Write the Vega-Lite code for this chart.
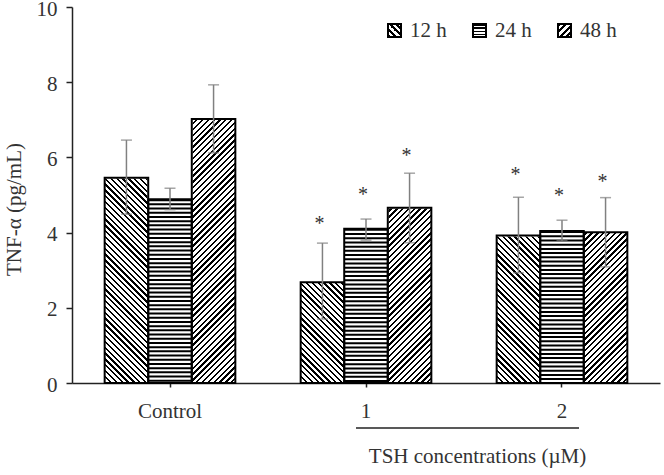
{
"$schema":"https://vega.github.io/schema/vega-lite/v6.json",
"width":588,"height":376,
"autosize":"none",
"padding":{"left":72,"top":7,"right":4,"bottom":92},
"background":"white",
"params":[
{"name":"hs","value":[
{"offset":0,"color":"#000"},{"offset":0.0075,"color":"#000"},{"offset":0.0075,"color":"#fff"},{"offset":0.0189,"color":"#fff"},
{"offset":0.0189,"color":"#000"},{"offset":0.0264,"color":"#000"},{"offset":0.0264,"color":"#fff"},{"offset":0.0377,"color":"#fff"},
{"offset":0.0377,"color":"#000"},{"offset":0.0453,"color":"#000"},{"offset":0.0453,"color":"#fff"},{"offset":0.0566,"color":"#fff"},
{"offset":0.0566,"color":"#000"},{"offset":0.0642,"color":"#000"},{"offset":0.0642,"color":"#fff"},{"offset":0.0755,"color":"#fff"},
{"offset":0.0755,"color":"#000"},{"offset":0.0830,"color":"#000"},{"offset":0.0830,"color":"#fff"},{"offset":0.0943,"color":"#fff"},
{"offset":0.0943,"color":"#000"},{"offset":0.1019,"color":"#000"},{"offset":0.1019,"color":"#fff"},{"offset":0.1132,"color":"#fff"},
{"offset":0.1132,"color":"#000"},{"offset":0.1208,"color":"#000"},{"offset":0.1208,"color":"#fff"},{"offset":0.1321,"color":"#fff"},
{"offset":0.1321,"color":"#000"},{"offset":0.1396,"color":"#000"},{"offset":0.1396,"color":"#fff"},{"offset":0.1509,"color":"#fff"},
{"offset":0.1509,"color":"#000"},{"offset":0.1585,"color":"#000"},{"offset":0.1585,"color":"#fff"},{"offset":0.1698,"color":"#fff"},
{"offset":0.1698,"color":"#000"},{"offset":0.1774,"color":"#000"},{"offset":0.1774,"color":"#fff"},{"offset":0.1887,"color":"#fff"},
{"offset":0.1887,"color":"#000"},{"offset":0.1962,"color":"#000"},{"offset":0.1962,"color":"#fff"},{"offset":0.2075,"color":"#fff"},
{"offset":0.2075,"color":"#000"},{"offset":0.2151,"color":"#000"},{"offset":0.2151,"color":"#fff"},{"offset":0.2264,"color":"#fff"},
{"offset":0.2264,"color":"#000"},{"offset":0.2340,"color":"#000"},{"offset":0.2340,"color":"#fff"},{"offset":0.2453,"color":"#fff"},
{"offset":0.2453,"color":"#000"},{"offset":0.2528,"color":"#000"},{"offset":0.2528,"color":"#fff"},{"offset":0.2642,"color":"#fff"},
{"offset":0.2642,"color":"#000"},{"offset":0.2717,"color":"#000"},{"offset":0.2717,"color":"#fff"},{"offset":0.2830,"color":"#fff"},
{"offset":0.2830,"color":"#000"},{"offset":0.2906,"color":"#000"},{"offset":0.2906,"color":"#fff"},{"offset":0.3019,"color":"#fff"},
{"offset":0.3019,"color":"#000"},{"offset":0.3094,"color":"#000"},{"offset":0.3094,"color":"#fff"},{"offset":0.3208,"color":"#fff"},
{"offset":0.3208,"color":"#000"},{"offset":0.3283,"color":"#000"},{"offset":0.3283,"color":"#fff"},{"offset":0.3396,"color":"#fff"},
{"offset":0.3396,"color":"#000"},{"offset":0.3472,"color":"#000"},{"offset":0.3472,"color":"#fff"},{"offset":0.3585,"color":"#fff"},
{"offset":0.3585,"color":"#000"},{"offset":0.3660,"color":"#000"},{"offset":0.3660,"color":"#fff"},{"offset":0.3774,"color":"#fff"},
{"offset":0.3774,"color":"#000"},{"offset":0.3849,"color":"#000"},{"offset":0.3849,"color":"#fff"},{"offset":0.3962,"color":"#fff"},
{"offset":0.3962,"color":"#000"},{"offset":0.4038,"color":"#000"},{"offset":0.4038,"color":"#fff"},{"offset":0.4151,"color":"#fff"},
{"offset":0.4151,"color":"#000"},{"offset":0.4226,"color":"#000"},{"offset":0.4226,"color":"#fff"},{"offset":0.4340,"color":"#fff"},
{"offset":0.4340,"color":"#000"},{"offset":0.4415,"color":"#000"},{"offset":0.4415,"color":"#fff"},{"offset":0.4528,"color":"#fff"},
{"offset":0.4528,"color":"#000"},{"offset":0.4604,"color":"#000"},{"offset":0.4604,"color":"#fff"},{"offset":0.4717,"color":"#fff"},
{"offset":0.4717,"color":"#000"},{"offset":0.4792,"color":"#000"},{"offset":0.4792,"color":"#fff"},{"offset":0.4906,"color":"#fff"},
{"offset":0.4906,"color":"#000"},{"offset":0.4981,"color":"#000"},{"offset":0.4981,"color":"#fff"},{"offset":0.5094,"color":"#fff"},
{"offset":0.5094,"color":"#000"},{"offset":0.5170,"color":"#000"},{"offset":0.5170,"color":"#fff"},{"offset":0.5283,"color":"#fff"},
{"offset":0.5283,"color":"#000"},{"offset":0.5358,"color":"#000"},{"offset":0.5358,"color":"#fff"},{"offset":0.5472,"color":"#fff"},
{"offset":0.5472,"color":"#000"},{"offset":0.5547,"color":"#000"},{"offset":0.5547,"color":"#fff"},{"offset":0.5660,"color":"#fff"},
{"offset":0.5660,"color":"#000"},{"offset":0.5736,"color":"#000"},{"offset":0.5736,"color":"#fff"},{"offset":0.5849,"color":"#fff"},
{"offset":0.5849,"color":"#000"},{"offset":0.5925,"color":"#000"},{"offset":0.5925,"color":"#fff"},{"offset":0.6038,"color":"#fff"},
{"offset":0.6038,"color":"#000"},{"offset":0.6113,"color":"#000"},{"offset":0.6113,"color":"#fff"},{"offset":0.6226,"color":"#fff"},
{"offset":0.6226,"color":"#000"},{"offset":0.6302,"color":"#000"},{"offset":0.6302,"color":"#fff"},{"offset":0.6415,"color":"#fff"},
{"offset":0.6415,"color":"#000"},{"offset":0.6491,"color":"#000"},{"offset":0.6491,"color":"#fff"},{"offset":0.6604,"color":"#fff"},
{"offset":0.6604,"color":"#000"},{"offset":0.6679,"color":"#000"},{"offset":0.6679,"color":"#fff"},{"offset":0.6792,"color":"#fff"},
{"offset":0.6792,"color":"#000"},{"offset":0.6868,"color":"#000"},{"offset":0.6868,"color":"#fff"},{"offset":0.6981,"color":"#fff"},
{"offset":0.6981,"color":"#000"},{"offset":0.7057,"color":"#000"},{"offset":0.7057,"color":"#fff"},{"offset":0.7170,"color":"#fff"},
{"offset":0.7170,"color":"#000"},{"offset":0.7245,"color":"#000"},{"offset":0.7245,"color":"#fff"},{"offset":0.7358,"color":"#fff"},
{"offset":0.7358,"color":"#000"},{"offset":0.7434,"color":"#000"},{"offset":0.7434,"color":"#fff"},{"offset":0.7547,"color":"#fff"},
{"offset":0.7547,"color":"#000"},{"offset":0.7623,"color":"#000"},{"offset":0.7623,"color":"#fff"},{"offset":0.7736,"color":"#fff"},
{"offset":0.7736,"color":"#000"},{"offset":0.7811,"color":"#000"},{"offset":0.7811,"color":"#fff"},{"offset":0.7925,"color":"#fff"},
{"offset":0.7925,"color":"#000"},{"offset":0.8000,"color":"#000"},{"offset":0.8000,"color":"#fff"},{"offset":0.8113,"color":"#fff"},
{"offset":0.8113,"color":"#000"},{"offset":0.8189,"color":"#000"},{"offset":0.8189,"color":"#fff"},{"offset":0.8302,"color":"#fff"},
{"offset":0.8302,"color":"#000"},{"offset":0.8377,"color":"#000"},{"offset":0.8377,"color":"#fff"},{"offset":0.8491,"color":"#fff"},
{"offset":0.8491,"color":"#000"},{"offset":0.8566,"color":"#000"},{"offset":0.8566,"color":"#fff"},{"offset":0.8679,"color":"#fff"},
{"offset":0.8679,"color":"#000"},{"offset":0.8755,"color":"#000"},{"offset":0.8755,"color":"#fff"},{"offset":0.8868,"color":"#fff"},
{"offset":0.8868,"color":"#000"},{"offset":0.8943,"color":"#000"},{"offset":0.8943,"color":"#fff"},{"offset":0.9057,"color":"#fff"},
{"offset":0.9057,"color":"#000"},{"offset":0.9132,"color":"#000"},{"offset":0.9132,"color":"#fff"},{"offset":0.9245,"color":"#fff"},
{"offset":0.9245,"color":"#000"},{"offset":0.9321,"color":"#000"},{"offset":0.9321,"color":"#fff"},{"offset":0.9434,"color":"#fff"},
{"offset":0.9434,"color":"#000"},{"offset":0.9509,"color":"#000"},{"offset":0.9509,"color":"#fff"},{"offset":0.9623,"color":"#fff"},
{"offset":0.9623,"color":"#000"},{"offset":0.9698,"color":"#000"},{"offset":0.9698,"color":"#fff"},{"offset":0.9811,"color":"#fff"},
{"offset":0.9811,"color":"#000"},{"offset":0.9887,"color":"#000"},{"offset":0.9887,"color":"#fff"},{"offset":1,"color":"#fff"}
]},
{"name":"ls","value":[
{"offset":0,"color":"#000"},{"offset":0.13,"color":"#000"},{"offset":0.13,"color":"#fff"},{"offset":0.25,"color":"#fff"},
{"offset":0.25,"color":"#000"},{"offset":0.38,"color":"#000"},{"offset":0.38,"color":"#fff"},{"offset":0.5,"color":"#fff"},
{"offset":0.5,"color":"#000"},{"offset":0.63,"color":"#000"},{"offset":0.63,"color":"#fff"},{"offset":0.75,"color":"#fff"},
{"offset":0.75,"color":"#000"},{"offset":0.88,"color":"#000"},{"offset":0.88,"color":"#fff"},{"offset":1,"color":"#fff"}
]}
],
"data":{"values":[
{"category":"Control","series":"12 h","mean":5.46,"lo":4.49,"hi":6.46,"star":null},
{"category":"Control","series":"24 h","mean":4.89,"lo":4.61,"hi":5.18,"star":null},
{"category":"Control","series":"48 h","mean":7.02,"lo":6.12,"hi":7.93,"star":null},
{"category":"1","series":"12 h","mean":2.68,"lo":1.70,"hi":3.72,"star":4.31},
{"category":"1","series":"24 h","mean":4.10,"lo":3.80,"hi":4.36,"star":5.09},
{"category":"1","series":"48 h","mean":4.66,"lo":3.73,"hi":5.58,"star":6.11},
{"category":"2","series":"12 h","mean":3.92,"lo":2.93,"hi":4.94,"star":5.60},
{"category":"2","series":"24 h","mean":4.04,"lo":3.78,"hi":4.33,"star":5.06},
{"category":"2","series":"48 h","mean":4.01,"lo":3.09,"hi":4.93,"star":5.42}
]},
"encoding":{
"x":{"field":"category","type":"nominal","sort":["Control","1","2"],"title":"TSH concentrations (µM)","scale":{"paddingInner":0.33333,"paddingOuter":0.16667}}
},
"layer":[
{"transform":[{"filter":"datum.series == '12 h'"}],
 "mark":{"type":"bar","fill":{"expr":"{gradient:'linear',x1:0,y1:1,x2:0.18628,y2:-0.1337,stops:hs}"},"strokeWidth":0},
 "encoding":{"xOffset":{"field":"series","type":"nominal","sort":["12 h","24 h","48 h"],"scale":{"paddingInner":0,"paddingOuter":0}},
  "y":{"datum":7.05,"type":"quantitative","scale":{"domain":[0,10]},"title":"TNF-α (pg/mL)"},"y2":{"datum":0}}},
{"transform":[{"filter":"datum.series == '48 h'"}],
 "mark":{"type":"bar","fill":{"expr":"{gradient:'linear',x1:0,y1:0,x2:0.18628,y2:1.1337,stops:hs}"},"strokeWidth":0},
 "encoding":{"xOffset":{"field":"series","type":"nominal","sort":["12 h","24 h","48 h"],"scale":{"paddingInner":0,"paddingOuter":0}},
  "y":{"datum":7.05,"type":"quantitative","scale":{"domain":[0,10]},"title":"TNF-α (pg/mL)"},"y2":{"datum":0}}},
{"mark":{"type":"bar","fill":"white","stroke":"white","strokeWidth":1.6},
 "encoding":{"xOffset":{"field":"series","type":"nominal","sort":["12 h","24 h","48 h"],"scale":{"paddingInner":0,"paddingOuter":0}},
  "y":{"field":"mean","type":"quantitative","scale":{"domain":[0,10]},"title":"TNF-α (pg/mL)"},"y2":{"datum":10}}},
{"transform":[{"filter":"datum.series == '24 h'"}],
 "mark":{"type":"rule","stroke":"#000","strokeWidth":43.5,"strokeDash":[2,2.2],"strokeCap":"butt"},
 "encoding":{"xOffset":{"field":"series","type":"nominal","sort":["12 h","24 h","48 h"],"scale":{"paddingInner":0,"paddingOuter":0}},
  "y":{"field":"mean","type":"quantitative","scale":{"domain":[0,10]},"title":"TNF-α (pg/mL)"},"y2":{"datum":0}}},
{"mark":{"type":"bar","stroke":"#000","strokeWidth":2,"fill":"transparent"},
 "encoding":{"xOffset":{"field":"series","type":"nominal","sort":["12 h","24 h","48 h"],"scale":{"paddingInner":0,"paddingOuter":0}},
  "y":{"field":"mean","type":"quantitative","scale":{"domain":[0,10]},"title":"TNF-α (pg/mL)"}}},
{"transform":[{"filter":"false"}],
 "mark":{"type":"square","stroke":"#000","strokeWidth":2,"filled":true,"opacity":1},
 "encoding":{
  "fill":{"field":"series","type":"nominal","sort":["12 h","24 h","48 h"],
   "scale":{"domain":["12 h","24 h","48 h"],"range":[
    {"expr":"{gradient:'linear',x1:0,y1:1,x2:1,y2:0,stops:ls}"},
    {"expr":"{gradient:'linear',x1:0,y1:0,x2:0,y2:1,stops:ls}"},
    {"expr":"{gradient:'linear',x1:0,y1:0,x2:1,y2:1,stops:ls}"}
   ]},
   "legend":{"title":null,"orient":"none","legendX":312,"legendY":13,"direction":"horizontal","symbolType":"square","symbolSize":169,"symbolStrokeColor":"#000","symbolStrokeWidth":2,"symbolOpacity":1,"labelFont":"'Liberation Serif', 'DejaVu Serif', serif","labelFontSize":21,"labelColor":"#333","labelOffset":5,"columnPadding":22,"padding":0,"zindex":1}}}},
{"mark":{"type":"rule","stroke":"#808080","strokeWidth":1.5},
 "encoding":{"xOffset":{"field":"series","type":"nominal","sort":["12 h","24 h","48 h"],"scale":{"paddingInner":0,"paddingOuter":0}},
  "y":{"field":"lo","type":"quantitative","scale":{"domain":[0,10]},"title":"TNF-α (pg/mL)"},"y2":{"field":"hi"}}},
{"mark":{"type":"tick","color":"#808080","size":11,"thickness":1.5,"orient":"horizontal"},
 "encoding":{"xOffset":{"field":"series","type":"nominal","sort":["12 h","24 h","48 h"],"scale":{"paddingInner":0,"paddingOuter":0}},
  "y":{"field":"hi","type":"quantitative","scale":{"domain":[0,10]},"title":"TNF-α (pg/mL)"}}},
{"mark":{"type":"tick","color":"#808080","size":11,"thickness":1.5,"orient":"horizontal"},
 "encoding":{"xOffset":{"field":"series","type":"nominal","sort":["12 h","24 h","48 h"],"scale":{"paddingInner":0,"paddingOuter":0}},
  "y":{"field":"lo","type":"quantitative","scale":{"domain":[0,10]},"title":"TNF-α (pg/mL)"}}},
{"transform":[{"filter":"datum.star != null"}],
 "mark":{"type":"text","text":"*","font":"'Liberation Serif', 'DejaVu Serif', serif","fontSize":20,"color":"#333","baseline":"alphabetic","dy":9,"dx":-3},
 "encoding":{"xOffset":{"field":"series","type":"nominal","sort":["12 h","24 h","48 h"],"scale":{"paddingInner":0,"paddingOuter":0}},
  "y":{"field":"star","type":"quantitative","scale":{"domain":[0,10]},"title":"TNF-α (pg/mL)"}}},
{"data":{"values":[{"k":1}]},
 "mark":{"type":"rule","stroke":"#222","strokeWidth":1.5,"xOffset":-10,"x2Offset":17},
 "encoding":{"x":{"datum":"1","type":"nominal"},"x2":{"datum":"2"},
  "y":{"datum":-1.2,"type":"quantitative","scale":{"domain":[0,10]},"title":"TNF-α (pg/mL)"}}}
],
"config":{
"view":{"stroke":null},
"font":"'Liberation Serif', 'DejaVu Serif', serif",
"axis":{"labelFont":"'Liberation Serif', 'DejaVu Serif', serif","labelFontSize":21,"labelColor":"#333","titleFont":"'Liberation Serif', 'DejaVu Serif', serif","titleFontSize":21,"titleFontWeight":"normal","titleColor":"#333","domainColor":"#222","tickColor":"#222","domainWidth":1.5,"tickWidth":1.5,"grid":false},
"axisY":{"tickSize":6,"labelPadding":9,"labelOffset":2,"titlePadding":12,"titleY":202,"tickCount":5},
"axisX":{"tickSize":4,"labelPadding":13,"labelAngle":0,"titleX":405,"titleY":79,"titleBaseline":"alphabetic","titleAlign":"center"}
}
}
